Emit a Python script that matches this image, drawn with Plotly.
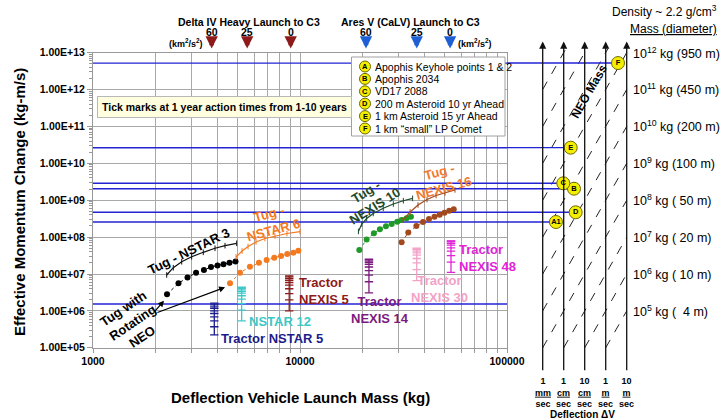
import numpy as np
import plotly.graph_objects as go

# ---------------- data ----------------
# Tug with rotating NEO (dots) and Tug (line), NSTAR 3
NSTAR3_ROT_MASS = [2278, 2588, 2861, 3146, 3436, 3715, 3994, 4270, 4565, 4880]
NSTAR3_ROT_DP = [2.82e6, 5.6e6, 8.0e6, 1.08e7, 1.28e7, 1.55e7, 1.70e7, 1.85e7, 2.01e7, 2.18e7]
NSTAR3_TUG_MASS = [2270, 2443, 2682, 2997, 3410, 3885, 4342, 4945]
NSTAR3_TUG_DP = [9.4e6, 1.48e7, 2.15e7, 2.94e7, 3.87e7, 4.98e7, 5.85e7, 6.79e7]

NSTAR6_ROT_MASS = [4590, 5130, 5730, 6330, 6900, 7510, 8100, 8680, 9290, 9820]
NSTAR6_ROT_DP = [5.6e6, 1.08e7, 1.58e7, 2.02e7, 2.39e7, 2.77e7, 3.08e7, 3.48e7, 3.78e7, 4.28e7]
NSTAR6_TUG_MASS = [4910, 5250, 5610, 6130, 6770, 7570, 8650, 10000]
NSTAR6_TUG_DP = [2.89e7, 4.20e7, 5.56e7, 7.36e7, 9.16e7, 1.07e8, 1.25e8, 1.40e8]

NEXIS10_ROT_MASS = [19340, 20990, 22750, 24320, 26010, 27730, 29510, 30980, 32750, 34340]
NEXIS10_ROT_DP = [4.47e7, 8.61e7, 1.27e8, 1.63e8, 1.97e8, 2.26e8, 2.61e8, 2.90e8, 3.23e8, 3.57e8]
NEXIS10_TUG_MASS = [19150, 19880, 20990, 22590, 25240, 28240, 31570, 35000]
NEXIS10_TUG_DP = [1.42e8, 2.26e8, 3.19e8, 4.37e8, 6.03e8, 7.89e8, 9.68e8, 1.12e9]

NEXIS16_ROT_MASS = [30980, 33350, 36480, 39290, 41990, 44650, 47290, 49900, 52590, 55300]
NEXIS16_ROT_DP = [7.23e7, 1.33e8, 2.0e8, 2.56e8, 3.10e8, 3.57e8, 4.02e8, 4.56e8, 5.16e8, 5.70e8]
NEXIS16_TUG_MASS = [31480, 34040, 37170, 41080, 45420, 50170, 56060]
NEXIS16_TUG_DP = [2.90e8, 4.79e8, 7.41e8, 1.04e9, 1.34e9, 1.57e9, 1.90e9]

# Gravity tractors: launch mass and momentum after 1..10 years
TRACTOR_NSTAR5_MASS = 3855
TRACTOR_NSTAR5_DP = [2.24e5, 3.72e5, 5.37e5, 6.92e5, 8.51e5, 1.0e6, 1.17e6, 1.29e6, 1.45e6, 1.62e6]
TRACTOR_NSTAR12_MASS = 5225
TRACTOR_NSTAR12_DP = [5.37e5, 1.05e6, 1.58e6, 2.09e6, 2.57e6, 3.02e6, 3.39e6, 3.72e6, 4.07e6, 4.37e6]
TRACTOR_NEXIS5_MASS = 8870
TRACTOR_NEXIS5_DP = [1.0e6, 2.0e6, 2.95e6, 3.98e6, 5.01e6, 5.89e6, 6.76e6, 7.59e6, 8.32e6, 8.91e6]
TRACTOR_NEXIS14_MASS = 21530
TRACTOR_NEXIS14_DP = [3.09e6, 6.17e6, 9.33e6, 1.23e7, 1.55e7, 1.82e7, 2.04e7, 2.24e7, 2.40e7, 2.51e7]
TRACTOR_NEXIS30_MASS = 36630
TRACTOR_NEXIS30_DP = [6.61e6, 1.32e7, 2.0e7, 2.63e7, 3.24e7, 3.72e7, 4.17e7, 4.57e7, 4.79e7, 5.01e7]
TRACTOR_NEXIS48_MASS = 53640
TRACTOR_NEXIS48_DP = [1.10e7, 2.09e7, 3.16e7, 4.17e7, 5.13e7, 6.03e7, 6.76e7, 7.41e7, 7.76e7, 7.94e7]

# Reference targets
TARGET_IDS = ["A1", "A2", "B", "C", "D", "E", "F"]
TARGET_DP = [2.56e8, 1.54e6, 2.05e9, 2.87e9, 4.7e8, 2.65e10, 5.2e12]
# position on deflection-dV panel (log10 m/s); None = no panel marker
TARGET_DV_LOG = [-2.37, None, -1.51, -2.02, -1.43, -1.667, 0.586]

LEGEND_LETTERS = ["A", "B", "C", "D", "E", "F"]
LEGEND_TEXT = ["Apophis Keyhole points 1 & 2", "Apophis 2034", "VD17 2088",
               "200 m Asteroid 10 yr Ahead", "1 km Asteroid 15 yr Ahead",
               "1 km \u201csmall\u201d LP Comet"]

# Launch capability to C3
C3_VALUES = ["60", "25", "0"]
DELTA_IV_MASS = [3744, 5557, 9017]
ARES_V_MASS = [20840, 36640, 53100]

# Deflection dV panel
DV_LOG = [-3, -2, -1, 0, 1]
DV_NUM = ["1", "1", "10", "1", "10"]
DV_UNIT = ["mm", "cm", "cm", "m", "m"]
NEO_MASS_EXP = list(range(5, 16))
MASS_LABEL_EXP = [12, 11, 10, 9, 8, 7, 6, 5]
MASS_LABEL_DIAM = ["950 m", "450 m", "200 m", "100 m", "\u00a050 m", "\u00a020 m", "\u00a010 m", "\u00a0\u00a04 m"]

X_TICKS = [m * 10 ** e for e in (3, 4) for m in range(1, 10)] + [100000]
Y_TICK_EXP = list(range(5, 14))

# ---------------- figure ----------------
W, H = 721, 420
FONT = "Liberation Sans, Arial, sans-serif"
BLUE = "#2323d6"
GRID = "#a8a8a8"


def pxx(p):
    return p / W


def pxy(p):
    return 1 - p / H


fig = go.Figure()


def dots(xv, yv, color):
    fig.add_trace(go.Scatter(x=xv, y=yv, mode="lines+markers",
                             line=dict(color=color, width=1, dash="dot"),
                             marker=dict(color=color, size=6), showlegend=False))


def tug(xv, yv, color):
    fig.add_trace(go.Scatter(x=xv, y=yv, mode="lines+markers",
                             line=dict(color=color, width=1.2),
                             marker=dict(symbol="line-ns", size=4, line=dict(color=color, width=1)),
                             showlegend=False))


def tractor(m, yv, color):
    fig.add_trace(go.Scatter(x=[m] * len(yv), y=yv, mode="lines+markers",
                             line=dict(color=color, width=1.3),
                             marker=dict(symbol="line-ew", size=6, line=dict(color=color, width=1.3)),
                             showlegend=False))


# blue target lines (main chart part)
for tid, dp in zip(TARGET_IDS, TARGET_DP):
    fig.add_trace(go.Scatter(x=[X_TICKS[0], X_TICKS[-1]], y=[dp, dp], mode="lines",
                             line=dict(color=BLUE, width=1.4), showlegend=False))

tug(NSTAR3_TUG_MASS, NSTAR3_TUG_DP, "#111111")
dots(NSTAR3_ROT_MASS, NSTAR3_ROT_DP, "#000000")
tug(NSTAR6_TUG_MASS, NSTAR6_TUG_DP, "#f47a20")
dots(NSTAR6_ROT_MASS, NSTAR6_ROT_DP, "#f47a20")
tug(NEXIS10_TUG_MASS, NEXIS10_TUG_DP, "#1e4a2c")
dots(NEXIS10_ROT_MASS, NEXIS10_ROT_DP, "#1f9a26")
tug(NEXIS16_TUG_MASS, NEXIS16_TUG_DP, "#a24a1e")
dots(NEXIS16_ROT_MASS, NEXIS16_ROT_DP, "#a24a1e")

tractor(TRACTOR_NSTAR5_MASS, TRACTOR_NSTAR5_DP, "#1c1c8c")
tractor(TRACTOR_NSTAR12_MASS, TRACTOR_NSTAR12_DP, "#3cc8c8")
tractor(TRACTOR_NEXIS5_MASS, TRACTOR_NEXIS5_DP, "#8e1a1a")
tractor(TRACTOR_NEXIS14_MASS, TRACTOR_NEXIS14_DP, "#7a1a7e")
tractor(TRACTOR_NEXIS30_MASS, TRACTOR_NEXIS30_DP, "#f2a2c6")
tractor(TRACTOR_NEXIS48_MASS, TRACTOR_NEXIS48_DP, "#e024d6")

# ---- deflection dV panel (x2/y2) ----
XR2 = [-4.70, 1.633]
for e in NEO_MASS_EXP:
    xs = max(DV_LOG[0], Y_TICK_EXP[0] - e)
    xe = min(DV_LOG[-1], Y_TICK_EXP[-1] + 0.1 - e)
    if xe > xs:
        fig.add_trace(go.Scatter(x=[xs, xe], y=[10 ** (e + xs), 10 ** (e + xe)], mode="lines",
                                 xaxis="x2", yaxis="y2",
                                 line=dict(color="#222", width=1, dash="dash"), showlegend=False))
for tid, dp, dv in zip(TARGET_IDS, TARGET_DP, TARGET_DV_LOG):
    if dv is not None:
        fig.add_trace(go.Scatter(x=[XR2[0], dv], y=[dp, dp], mode="lines", xaxis="x2", yaxis="y2",
                                 line=dict(color=BLUE, width=1.4), showlegend=False))

# target circles
CIRCLE = dict(size=13, color="#f4ee00", line=dict(color="#6e6a00", width=1))
lx, ly, lt = [], [], []
for tid, dp in zip(TARGET_IDS, TARGET_DP):
    lx.append(X_TICKS[0]); ly.append(dp); lt.append(tid)
lx.append(10 ** 5.02); ly.append(TARGET_DP[1]); lt.append("A2")
fig.add_trace(go.Scatter(x=lx, y=ly, text=["<b>%s</b>" % t for t in lt], mode="markers+text",
                         textposition="middle center", textfont=dict(size=7.5, color="#000", family=FONT),
                         marker=CIRCLE, cliponaxis=False, showlegend=False))
rx, ry, rt = [], [], []
for tid, dp, dv in zip(TARGET_IDS, TARGET_DP, TARGET_DV_LOG):
    if dv is not None:
        rx.append(dv); ry.append(dp); rt.append(tid)
fig.add_trace(go.Scatter(x=rx, y=ry, text=["<b>%s</b>" % t for t in rt], mode="markers+text",
                         xaxis="x2", yaxis="y2",
                         textposition="middle center", textfont=dict(size=7.5, color="#000", family=FONT),
                         marker=CIRCLE, cliponaxis=False, showlegend=False))

# ---------------- annotations ----------------
ann = []


def A(**kw):
    d = dict(showarrow=False, xanchor="center", yanchor="middle",
             font=dict(family=FONT, size=13, color="#000"))
    f = kw.pop("font", {})
    d["font"].update(f)
    d.update(kw)
    ann.append(d)


# series labels (x, y in log10 data units)
A(x=3.459, y=7.623, xref="x", yref="y", text="<b>Tug - NSTAR 3</b>", textangle=-26)
A(x=3.86, y=8.40, xref="x", yref="y", text="<b>Tug -<br>NSTAR 6</b>", textangle=-15,
  font=dict(color="#f47a20"))
A(x=4.34, y=9.03, xref="x", yref="y", text="<b>Tug -<br>NEXIS 10</b>", textangle=-32,
  font=dict(color="#1e4a2c"))
A(x=4.685, y=9.56, xref="x", yref="y", text="<b>Tug -<br>NEXIS 16</b>", textangle=-15,
  font=dict(color="#f07a30"))
A(x=3.984, y=6.539, xref="x", yref="y", text="<b>Tractor<br>NEXIS 5</b>", xanchor="left", align="left",
  font=dict(color="#8e1a1a"))
A(x=3.7425, y=5.707, xref="x", yref="y", text="<b>NSTAR 12</b>", xanchor="left",
  font=dict(color="#3cc8c8"))
A(x=3.610, y=5.257, xref="x", yref="y", text="<b>Tractor NSTAR 5</b>", xanchor="left",
  font=dict(color="#1c1c8c"))
A(x=4.386, y=6.024, xref="x", yref="y", text="<b>Tractor<br>NEXIS 14</b>",
  font=dict(color="#7a1a7e"))
A(x=4.676, y=6.594, xref="x", yref="y", text="<b>Tractor<br>NEXIS 30</b>",
  font=dict(color="#f2a2c6"))
A(x=4.757, y=7.447, xref="x", yref="y", text="<b>Tractor<br>NEXIS 48</b>", xanchor="left", align="left",
  font=dict(color="#e024d6"))
A(x=3.193, y=5.699, xref="x", yref="y", text="<b>Tug with<br>Rotating<br>NEO</b>", textangle=-34)
# arrows from "Tug with Rotating NEO"
for hx, hy, tx, ty in [(3.343, 6.276, 3.290, 5.930), (3.638, 6.640, 3.304, 5.943)]:
    ann.append(dict(x=hx, y=hy, ax=tx, ay=ty, xref="x", yref="y", axref="x", ayref="y",
                    text="", showarrow=True, arrowhead=2, arrowsize=1, arrowwidth=1.2,
                    arrowcolor="#000"))

# note box
A(x=pxx(225), y=pxy(107), xref="paper", yref="paper",
  text="<b>Tick marks at 1 year action times from 1-10 years</b>",
  font=dict(size=10.5), bgcolor="#ffffe0", bordercolor="#b8b8b8", borderwidth=1, borderpad=4)

# launch vehicle headers
A(x=pxx(249), y=pxy(21.5), xref="paper", yref="paper", text="<b>Delta IV Heavy Launch to C3</b>",
  font=dict(size=10.5))
A(x=pxx(410), y=pxy(21.5), xref="paper", yref="paper", text="<b>Ares V (CaLV) Launch to C3</b>",
  font=dict(size=10.5))
A(x=pxx(186), y=pxy(43), xref="paper", yref="paper", text="<b>(km<sup>2</sup>/s<sup>2</sup>)</b>",
  font=dict(size=9))
A(x=pxx(475), y=pxy(43), xref="paper", yref="paper", text="<b>(km<sup>2</sup>/s<sup>2</sup>)</b>",
  font=dict(size=9))
for masses, col in [(DELTA_IV_MASS, "#8e1a1a"), (ARES_V_MASS, "#1f5fd6")]:
    for c3, m in zip(C3_VALUES, masses):
        A(x=np.log10(m), y=pxy(32), xref="x", yref="paper", text="<b>%s</b>" % c3,
          font=dict(size=10.5))
        ann.append(dict(x=np.log10(m), y=pxy(48.5), xref="x", yref="paper", ax=0, ay=-10,
                        text="", showarrow=True, arrowhead=2, arrowsize=0.55, arrowwidth=4.5,
                        arrowcolor=col))

# axis titles
A(x=pxx(300), y=pxy(397), xref="paper", yref="paper",
  text="<b>Deflection Vehicle Launch Mass (kg)</b>", font=dict(size=15))
A(x=pxx(19), y=pxy(202), xref="paper", yref="paper",
  text="<b>Effective Momentum Change (kg-m/s)</b>", font=dict(size=15), textangle=-90)

# panel arrows and labels
for dv, num, unit in zip(DV_LOG, DV_NUM, DV_UNIT):
    ann.append(dict(x=dv, y=13.30, ax=dv, ay=4.35, xref="x2", yref="y2", axref="x2", ayref="y2",
                    text="", showarrow=True, arrowhead=2, arrowsize=1.1, arrowwidth=1.3,
                    arrowcolor="#111"))
    A(x=dv, y=pxy(374), xref="x2", yref="paper", yanchor="top",
      text="<b>%s<br><u>%s</u><br>sec</b>" % (num, unit), font=dict(size=9))
A(x=pxx(582), y=pxy(414.5), xref="paper", yref="paper", text="<b>Deflection \u0394V</b>",
  font=dict(size=10))
A(x=-0.78, y=11.96, xref="x2", yref="y2", text="<b>NEO Mass</b>", textangle=-60,
  font=dict(size=12))
for e, d in zip(MASS_LABEL_EXP, MASS_LABEL_DIAM):
    A(x=DV_LOG[-1], y=e + 1, xref="x2", yref="y2", xanchor="left", xshift=4,
      text="10<sup>%d</sup> kg (%s)" % (e, d), font=dict(size=12.5))
A(x=pxx(664), y=pxy(11), xref="paper", yref="paper", text="Density ~ 2.2 g/cm<sup>3</sup>",
  font=dict(size=12))
A(x=pxx(673), y=pxy(29), xref="paper", yref="paper", text="<u>Mass (diameter)</u>",
  font=dict(size=12))

# legend box (shapes above traces, text as annotations)
shapes = [dict(type="rect", xref="paper", yref="paper", x0=pxx(351.5), x1=pxx(505),
               y0=pxy(136), y1=pxy(57), fillcolor="#ffffff", line=dict(color="#a0a0a0", width=1),
               layer="above")]
for i, (let, txt) in enumerate(zip(LEGEND_LETTERS, LEGEND_TEXT)):
    yy = pxy(66.5 + 12.4 * i)
    shapes.append(dict(type="circle", xref="paper", yref="paper", xsizemode="pixel", ysizemode="pixel",
                       xanchor=pxx(365), yanchor=yy, x0=-5.5, x1=5.5, y0=-5.5, y1=5.5,
                       fillcolor="#f4ee00", line=dict(color="#6e6a00", width=1), layer="above"))
    A(x=pxx(365), y=yy, xref="paper", yref="paper", text="<b>%s</b>" % let, font=dict(size=7.5))
    A(x=pxx(373), y=yy, xref="paper", yref="paper", xanchor="left", text=txt, font=dict(size=10.5))

# ---------------- layout ----------------
x_text = ["<b>%d</b>" % v if v in (1000, 10000, 100000) else "" for v in X_TICKS]
y_vals = [10 ** e for e in Y_TICK_EXP]
y_text = ["<b>1.00E+%02d</b>" % e for e in Y_TICK_EXP]

fig.update_layout(
    width=W, height=H, margin=dict(l=0, r=0, t=0, b=0, autoexpand=False),
    paper_bgcolor="white", plot_bgcolor="white", showlegend=False,
    font=dict(family=FONT, color="#000"),
    xaxis=dict(type="log", range=[3, 5], domain=[pxx(93), pxx(507)], anchor="y", automargin=False,
               tickmode="array", tickvals=X_TICKS, ticktext=x_text,
               tickfont=dict(size=10.5, family=FONT), showgrid=True, gridcolor=GRID, gridwidth=1,
               ticks="outside", ticklen=4, tickcolor="#999", showline=True, linecolor="#999",
               mirror=True, zeroline=False),
    yaxis=dict(type="log", range=[5, 13], domain=[pxy(347.8), pxy(52.6)], anchor="x", automargin=False,
               tickmode="array", tickvals=y_vals, ticktext=y_text,
               tickfont=dict(size=10.5, family=FONT), showgrid=True, gridcolor=GRID, gridwidth=1,
               ticks="outside", ticklen=5, tickcolor="#999", showline=True, linecolor="#999",
               mirror=True, zeroline=False,
               minor=dict(ticks="outside", ticklen=3, tickcolor="#999", dtick="D1", showgrid=False)),
    xaxis2=dict(domain=[pxx(507), pxx(640)], range=XR2, anchor="y2", visible=False, automargin=False),
    yaxis2=dict(type="log", domain=[pxy(372), pxy(40)], range=[4.344, 13.341], anchor="x2",
                visible=False, automargin=False),
    annotations=ann, shapes=shapes,
)

fig.write_html("out.html", config={"displayModeBar": False},
               post_script="document.body.style.margin='0px';document.body.style.padding='0px';")
